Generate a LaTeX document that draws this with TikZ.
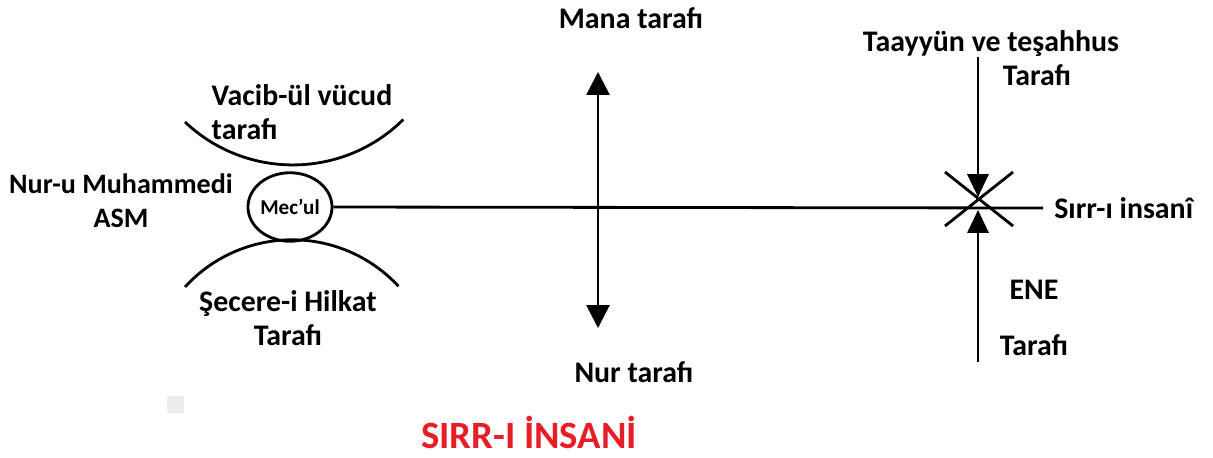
\documentclass[tikz,border=0pt]{standalone}
\usepackage{fontspec}
\setmainfont{Carlito}
\usetikzlibrary{arrows.meta,shapes.geometric}
\definecolor{titlered}{RGB}{230,30,40}
\definecolor{boxgrey}{RGB}{237,237,237}
\tikzset{
  lbl/.style={font=\fontsize{17}{19.3}\selectfont\bfseries, align=center, inner sep=0pt},
  ln/.style={line width=1.6pt},
  tip/.style={-{Triangle[length=13pt,width=12pt]}},
}

\begin{document}
\begin{tikzpicture}[x=0.02cm,y=-0.02cm]
\useasboundingbox (0,0) rectangle (1213,457);

% Mec'ul and its two arcs
\node[ellipse, draw, ln, minimum width=47pt, minimum height=39pt, inner sep=0pt,
  font=\fontsize{12}{14}\selectfont\bfseries] (mecul) at (290,207) {Mec’ul};
\draw[ln] (185,122) arc[start angle=133.4, end angle=45.3, radius=157];
\draw[ln] (185,287) arc[start angle=222.4, end angle=317.2, radius=145];

% Labels round Mec'ul
\node[lbl, align=left] (vacib) at (302,112) {Vacib-ül vücud\\tarafı};
\node[lbl, font=\fontsize{16}{19.3}\selectfont\bfseries] (nurm) at (121,201) {Nur-u Muhammedi\\ASM};
\node[lbl] (secere) at (288,318) {Şecere-i Hilkat\\Tarafı};

% Mana / Nur axis
\coordinate (manaTip) at (598,72);
\coordinate (nurTip) at (598,328);
\node[lbl] (mana) at (631,18) {Mana tarafı};
\node[lbl] (nurt) at (634,372) {Nur tarafı};
\draw[ln, {Triangle[length=13pt,width=13pt]}-{Triangle[length=13pt,width=13pt]}] (manaTip) -- (nurTip);

% Sirr-i insani line
\coordinate (lineEnd) at (1043,208);
\node[lbl, anchor=west] (sirr) at (1054,208) {Sırr-ı insanî};
\draw[ln] (mecul.east) -- (lineEnd);

% Taayyun / ENE
\node[lbl] (taay) at (991,44) {Taayyün ve teşahhus};
\node[lbl] (taayTaraf) at (1037,75) {Tarafı};
\node[lbl] (ene) at (1034,318) {ENE\\[13pt]Tarafı};
\coordinate (taayTop) at (978,57);
\coordinate (downTip) at (978,197);
\coordinate (eneBot) at (978,362);
\coordinate (upTip) at (978,210);
\draw[ln, tip] (taayTop) -- (downTip);
\draw[ln, tip] (eneBot) -- (upTip);
\draw[ln] (945,172) -- (1013,226);
\draw[ln] (945,226) -- (1013,172);

% Title
\fill[boxgrey] (167,396) rectangle (184,413);
\node[font=\fontsize{22}{26}\selectfont\bfseries, text=titlered, inner sep=0pt] (title) at (529,432) {SIRR-I İNSANİ};
\end{tikzpicture}
\end{document}
